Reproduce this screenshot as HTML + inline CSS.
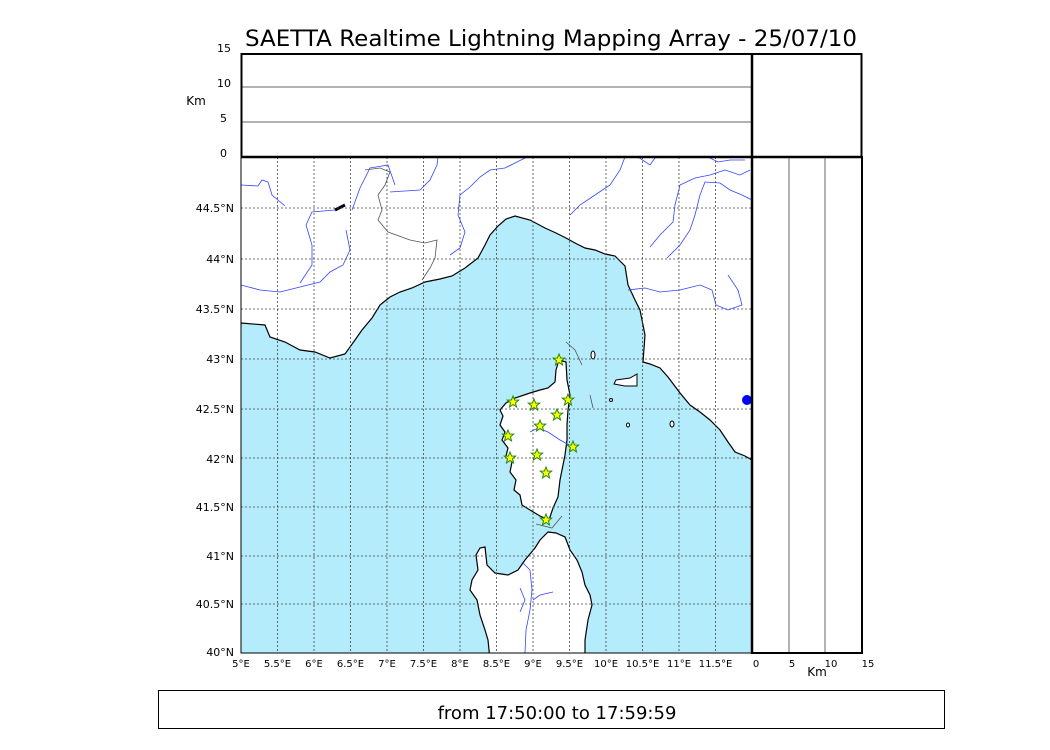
<!DOCTYPE html>
<html><head><meta charset="utf-8"><style>
body{margin:0;background:#fff}
svg{display:block;font-family:"DejaVu Sans","Liberation Sans",sans-serif}
</style></head><body>
<svg width="1050" height="750" viewBox="0 0 1050 750" xmlns="http://www.w3.org/2000/svg">
<rect width="1050" height="750" fill="#fff"/>
<text x="551" y="46" font-size="22" text-anchor="middle" textLength="612" lengthAdjust="spacingAndGlyphs">SAETTA Realtime Lightning Mapping Array - 25/07/10</text>

<clipPath id="c"><rect x="241" y="157" width="511" height="496"/></clipPath>
<g clip-path="url(#c)">
<path fill="#b4ecfc" stroke="#000" stroke-width="1.2" d="M241,323 L265,325 L270,337 L285,342 L300,350 L315,352 L330,358 L345,354 L355,340 L362,330 L372,318 L380,305 L390,297 L400,292 L412,288 L425,282 L440,279 L452,276 L465,268 L478,258 L485,245 L490,235 L498,226 L506,219 L515,216 L530,220 L545,228 L556,233 L566,238 L575,243 L585,248 L595,250 L605,254 L615,256 L625,266 L628,285 L635,300 L640,310 L645,335 L643,362 L650,364 L660,368 L668,377 L680,393 L690,405 L700,412 L710,420 L720,430 L728,442 L735,452 L745,456 L752,460 L760,660 L235,660 Z"/>
<path fill="#fff" stroke="#000" stroke-width="1.2" d="M559,360 L566,362 L567,380 L570,395 L568,410 L567,425 L567,440 L565,455 L562,470 L560,480 L558,497 L553,508 L549,520 L540,516 L530,510 L522,505 L520,495 L514,490 L516,480 L510,472 L512,462 L506,456 L508,448 L502,440 L505,432 L500,425 L503,416 L500,410 L506,403 L515,398 L530,393 L540,390 L548,388 L555,382 L556,370 Z"/>
<path fill="#fff" stroke="#000" stroke-width="1.2" d="M548,532 L556,533 L565,537 L570,550 L577,560 L582,572 L585,585 L590,595 L592,605 L588,620 L585,640 L585,660 L490,660 L488,640 L485,630 L480,615 L477,600 L470,590 L472,580 L478,570 L476,555 L480,548 L485,547 L487,565 L495,573 L508,575 L518,570 L525,560 L535,548 L540,540 Z"/>
<path fill="#fff" stroke="#000" stroke-width="1" d="M616,380 L630,378 L637,374 L637,386 L625,386 L614,384 Z"/>
<ellipse cx="593" cy="355" rx="2" ry="4" fill="#fff" stroke="#000"/>
<ellipse cx="628" cy="425" rx="1.5" ry="2" fill="#fff" stroke="#000"/>
<ellipse cx="672" cy="424" rx="2" ry="3" fill="#fff" stroke="#000"/>
<ellipse cx="611" cy="400" rx="1.5" ry="1.5" fill="#fff" stroke="#000"/>
<g fill="none" stroke="#3344ff" stroke-width="0.8">
<path d="M241,185 L258,186 L262,180 L268,182 L272,195 L285,206"/>
<path d="M241,285 L260,290 L280,292 L300,287 L320,282 L330,272 L343,265 L350,250 L346,230"/>
<path d="M335,210 L312,212 L306,225 L312,245 L312,265 L300,283"/>
<path d="M352,210 L360,188 L370,168 L388,165 L395,185"/>
<path d="M390,192 L420,190 L430,180 L437,165 L438,157"/>
<path d="M450,255 L460,248 L465,232 L458,215 L460,195 L470,187 L480,177 L490,170 L505,168 L515,163 L525,158"/>
<path d="M570,215 L580,205 L595,195 L610,185 L620,170 L625,157"/>
<path d="M638,157 L650,165 L655,158"/>
<path d="M650,247 L660,235 L673,222 L675,205 L680,185 L695,178 L710,175 L725,170 L740,175 L750,170"/>
<path d="M667,258 L680,245 L690,230 L695,215 L700,195 L705,182 L720,183 L730,190 L742,195 L752,200"/>
<path d="M628,290 L645,288 L660,292 L680,290 L700,285 L712,290 L716,305 L728,310 L742,305 L738,290 L728,275"/>
<path d="M708,157 L718,162 L730,160 L745,160"/>
<path d="M530,432 L538,428 L548,432 L560,440 L573,447"/>
<path d="M522,562 L530,570 L532,590 L530,610 L526,630 L525,653"/>
<path d="M533,600 L540,595 L553,592"/>
<path d="M520,588 L525,600 L520,612"/>
</g>
<path d="M365,170 L380,168 L390,172 L385,185 L378,195 L382,210 L378,220 L388,232 L410,240 L425,243 L437,240 L435,258 L430,268 L422,280" fill="none" stroke="#555" stroke-width="0.8"/>
<path d="M335,210 L345,205" stroke="#001" stroke-width="3"/>
<circle cx="747" cy="400" r="5" fill="#0000ff"/>
<path d="M566,342 L575,350 L582,365" stroke="#555" fill="none" stroke-width="0.8"/>
<path d="M590,395 L593,408" stroke="#555" fill="none" stroke-width="0.8"/>
<path d="M536,524 L552,528 L562,516" stroke="#555" fill="none" stroke-width="0.8"/>
<g stroke="#444" stroke-width="0.8" stroke-dasharray="2,2">
<path d="M277.5,157V653M314,157V653M350.5,157V653M387,157V653M423.5,157V653M460,157V653M496.5,157V653M533,157V653M569.5,157V653M606,157V653M642.5,157V653M679,157V653M715.5,157V653"/>
<path d="M241,604H752M241,556H752M241,507H752M241,458H752M241,409H752M241,359H752M241,309H752M241,259H752M241,208H752"/>
</g>
<g fill="#ffff00" stroke="#228800" stroke-width="1">
<polygon id="s" points="0,-6 1.6,-2 5.7,-1.9 2.5,0.8 3.5,5 0,2.5 -3.5,5 -2.5,0.8 -5.7,-1.9 -1.6,-2" transform="translate(559,360)"/>
<use href="#s" x="-46" y="42"/><use href="#s" x="-25" y="45"/><use href="#s" x="9" y="40"/>
<use href="#s" x="-2" y="55"/><use href="#s" x="-19" y="66"/><use href="#s" x="-51" y="76"/>
<use href="#s" x="14" y="87"/><use href="#s" x="-22" y="95"/><use href="#s" x="-49" y="98"/>
<use href="#s" x="-13" y="113"/><use href="#s" x="-13" y="160"/>
</g>
</g>
<rect x="241" y="157" width="511" height="496" fill="none" stroke="#000" stroke-width="1"/>

<line x1="241" y1="87" x2="752" y2="87" stroke="#666" stroke-width="1"/>
<line x1="241" y1="122" x2="752" y2="122" stroke="#666" stroke-width="1"/>
<rect x="241.5" y="54" width="620" height="103" fill="none" stroke="#000" stroke-width="2"/>
<line x1="241" y1="157" x2="862" y2="157" stroke="#000" stroke-width="2.5"/>
<line x1="789" y1="157" x2="789" y2="653" stroke="#666" stroke-width="1"/>
<line x1="825" y1="157" x2="825" y2="653" stroke="#666" stroke-width="1"/>
<rect x="752" y="157" width="110" height="496" fill="none" stroke="#000" stroke-width="2"/>
<line x1="752" y1="54" x2="752" y2="653" stroke="#000" stroke-width="2.5"/>

<g font-size="11" text-anchor="end">
<text x="231" y="52">15</text><text x="231" y="87">10</text><text x="227" y="122">5</text><text x="227" y="157">0</text>
<text x="234" y="212">44.5°N</text><text x="234" y="263">44°N</text><text x="234" y="313">43.5°N</text><text x="234" y="363">43°N</text><text x="234" y="413">42.5°N</text><text x="234" y="463">42°N</text><text x="234" y="511">41.5°N</text><text x="234" y="560">41°N</text><text x="234" y="608">40.5°N</text><text x="234" y="656">40°N</text>
</g>
<text x="196" y="105" font-size="12" text-anchor="middle">Km</text>
<g font-size="10" text-anchor="middle">
<text x="241" y="667">5°E</text><text x="277.5" y="667">5.5°E</text><text x="314" y="667">6°E</text><text x="350.5" y="667">6.5°E</text><text x="387" y="667">7°E</text><text x="423.5" y="667">7.5°E</text><text x="460" y="667">8°E</text><text x="496.5" y="667">8.5°E</text><text x="533" y="667">9°E</text><text x="569.5" y="667">9.5°E</text><text x="606" y="667">10°E</text><text x="642.5" y="667">10.5°E</text><text x="679" y="667">11°E</text><text x="715.5" y="667">11.5°E</text>
<text x="756" y="667">0</text><text x="792" y="667">5</text><text x="831" y="667">10</text><text x="868" y="667">15</text>
</g>
<text x="817" y="676" font-size="12" text-anchor="middle">Km</text>

<rect x="158.5" y="690.5" width="786" height="38" fill="none" stroke="#000" stroke-width="1"/>
<text x="557" y="719" font-size="18" text-anchor="middle">from 17:50:00 to 17:59:59</text>
</svg>
</body></html>
